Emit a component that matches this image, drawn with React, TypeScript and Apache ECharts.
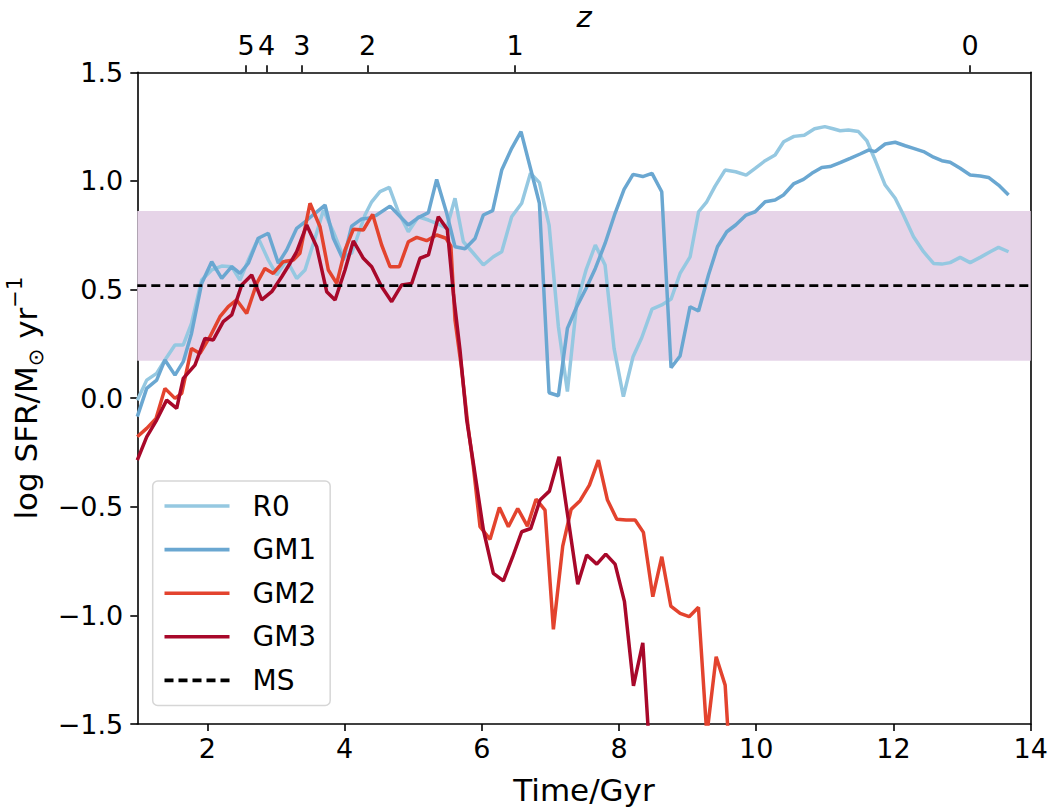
import React, { useEffect, useRef } from "react";
import * as echarts from "echarts";

const FONT = "DejaVu Sans";

const xMin = 0.98;
const xMax = 14;
const xTicks = [2, 4, 6, 8, 10, 12, 14];
const yTicksMin = -1.5;
const yTicksMax = 1.5;

const zTickTimes = [2.564, 2.866, 3.378, 4.335, 6.485, 13.118];
const zTickLabels = ["5", "4", "3", "2", "1", "0"];

const msValue = 0.518;
const msBand = [0.172, 0.861];

const seriesNames = ["R0", "GM1", "GM2", "GM3", "MS"];
const seriesColors = ["#95c8e1", "#6aa7d1", "#e3432e", "#a8082a", "#000000"];

const r0 = [
  [0.98, -0.01], [1.117, 0.083], [1.262, 0.114], [1.383, 0.176], [1.529, 0.245], [1.65, 0.245],
  [1.77, 0.344], [1.918, 0.544], [2.064, 0.59], [2.21, 0.608], [2.356, 0.605], [2.477, 0.544],
  [2.598, 0.636], [2.743, 0.736], [2.889, 0.636], [3.012, 0.567], [3.157, 0.636], [3.303, 0.551],
  [3.424, 0.59], [3.57, 0.736], [3.693, 0.866], [3.837, 0.766], [3.983, 0.651], [4.104, 0.667],
  [4.298, 0.843], [4.396, 0.904], [4.517, 0.951], [4.653, 0.97], [4.784, 0.858], [4.93, 0.766],
  [5.076, 0.835], [5.222, 0.82], [5.343, 0.805], [5.489, 0.782], [5.61, 0.92], [5.732, 0.72],
  [5.878, 0.667], [6.023, 0.613], [6.169, 0.651], [6.291, 0.674], [6.436, 0.835], [6.582, 0.897],
  [6.71, 1.035], [6.84, 0.992], [6.981, 0.797], [7.117, 0.329], [7.248, 0.03], [7.384, 0.436],
  [7.52, 0.59], [7.655, 0.705], [7.797, 0.613], [7.928, 0.229], [8.064, 0.007], [8.205, 0.191],
  [8.331, 0.278], [8.481, 0.41], [8.623, 0.429], [8.759, 0.456], [8.89, 0.574], [9.036, 0.65],
  [9.16, 0.858], [9.279, 0.904], [9.401, 0.976], [9.546, 1.05], [9.7, 1.042], [9.853, 1.027],
  [9.984, 1.058], [10.13, 1.093], [10.275, 1.119], [10.4, 1.18], [10.55, 1.205], [10.7, 1.21],
  [10.85, 1.24], [11.0, 1.25], [11.12, 1.24], [11.223, 1.231], [11.344, 1.234], [11.49, 1.227],
  [11.612, 1.185], [11.733, 1.096], [11.879, 0.981], [12.025, 0.92], [12.146, 0.843], [12.292, 0.743],
  [12.438, 0.674], [12.584, 0.62], [12.705, 0.617], [12.826, 0.624], [12.972, 0.648], [13.118, 0.624],
  [13.264, 0.648], [13.41, 0.674], [13.531, 0.694], [13.677, 0.674],
];

const gm1 = [
  [0.98, -0.085], [1.117, 0.045], [1.262, 0.083], [1.383, 0.176], [1.529, 0.106], [1.65, 0.168],
  [1.77, 0.298], [1.918, 0.528], [2.064, 0.628], [2.21, 0.551], [2.356, 0.605], [2.477, 0.574],
  [2.598, 0.621], [2.743, 0.736], [2.889, 0.759], [3.035, 0.621], [3.157, 0.682], [3.303, 0.782],
  [3.424, 0.812], [3.57, 0.851], [3.716, 0.889], [3.837, 0.736], [3.983, 0.636], [4.104, 0.792],
  [4.25, 0.825], [4.347, 0.828], [4.469, 0.843], [4.663, 0.884], [4.93, 0.797], [5.076, 0.831],
  [5.222, 0.854], [5.343, 1.007], [5.489, 0.851], [5.61, 0.697], [5.756, 0.688], [5.902, 0.735],
  [6.023, 0.843], [6.159, 0.863], [6.291, 1.05], [6.436, 1.15], [6.572, 1.227], [6.704, 1.065],
  [6.84, 0.897], [6.981, 0.025], [7.117, 0.011], [7.248, 0.321], [7.384, 0.421], [7.52, 0.505],
  [7.655, 0.597], [7.797, 0.712], [7.943, 0.851], [8.074, 0.961], [8.205, 1.03], [8.346, 1.02],
  [8.481, 1.035], [8.623, 0.95], [8.759, 0.14], [8.89, 0.194], [9.036, 0.421], [9.16, 0.401],
  [9.304, 0.567], [9.435, 0.697], [9.571, 0.766], [9.7, 0.797], [9.853, 0.843], [9.984, 0.858],
  [10.13, 0.904], [10.275, 0.912], [10.397, 0.935], [10.543, 0.986], [10.688, 1.007], [10.81, 1.035],
  [10.956, 1.062], [11.077, 1.066], [11.223, 1.084], [11.369, 1.104], [11.514, 1.124], [11.636, 1.142],
  [11.733, 1.135], [11.879, 1.17], [12.025, 1.178], [12.171, 1.162], [12.292, 1.15], [12.438, 1.135],
  [12.584, 1.109], [12.705, 1.093], [12.826, 1.086], [12.972, 1.058], [13.118, 1.027], [13.264, 1.023],
  [13.385, 1.016], [13.531, 0.981], [13.677, 0.935],
];

const gm2 = [
  [0.98, -0.178], [1.117, -0.139], [1.254, -0.093], [1.383, 0.045], [1.529, -0.001], [1.627, 0.022],
  [1.77, 0.229], [1.894, 0.206], [2.039, 0.283], [2.185, 0.375], [2.306, 0.421], [2.428, 0.452],
  [2.574, 0.39], [2.72, 0.528], [2.84, 0.597], [2.962, 0.574], [3.108, 0.628], [3.254, 0.636],
  [3.35, 0.667], [3.497, 0.897], [3.643, 0.789], [3.764, 0.59], [3.886, 0.528], [4.007, 0.682],
  [4.128, 0.777], [4.274, 0.774], [4.41, 0.846], [4.541, 0.705], [4.663, 0.605], [4.799, 0.605],
  [4.93, 0.72], [5.052, 0.74], [5.197, 0.725], [5.343, 0.751], [5.479, 0.736], [5.55, 0.7],
  [5.61, 0.36], [5.7, 0.15], [5.8, -0.13], [5.878, -0.316], [5.975, -0.592], [6.121, -0.65],
  [6.257, -0.503], [6.388, -0.592], [6.524, -0.508], [6.665, -0.589], [6.791, -0.465], [6.922, -0.515],
  [7.044, -1.064], [7.18, -0.681], [7.302, -0.512], [7.433, -0.472], [7.569, -0.4], [7.7, -0.285],
  [7.832, -0.469], [7.968, -0.557], [8.104, -0.561], [8.235, -0.561], [8.356, -0.618], [8.493, -0.914],
  [8.624, -0.73], [8.755, -0.957], [8.891, -0.991], [9.022, -1.006], [9.158, -0.963], [9.28, -1.55],
  [9.416, -1.19], [9.547, -1.321], [9.65, -1.85],
];

const gm3 = [
  [0.98, -0.285], [1.117, -0.178], [1.262, -0.101], [1.408, -0.009], [1.554, -0.047], [1.65, 0.091],
  [1.82, 0.152], [1.966, 0.275], [2.087, 0.268], [2.233, 0.352], [2.356, 0.383], [2.501, 0.521],
  [2.647, 0.567], [2.793, 0.452], [2.939, 0.49], [3.085, 0.559], [3.206, 0.621], [3.303, 0.674],
  [3.449, 0.797], [3.594, 0.697], [3.74, 0.49], [3.862, 0.452], [4.007, 0.59], [4.128, 0.724],
  [4.274, 0.644], [4.396, 0.605], [4.541, 0.513], [4.687, 0.444], [4.833, 0.521], [4.979, 0.528],
  [5.1, 0.644], [5.222, 0.659], [5.367, 0.835], [5.498, 0.777], [5.586, 0.482], [5.683, 0.221],
  [5.781, -0.101], [5.878, -0.3], [6.024, -0.607], [6.169, -0.807], [6.315, -0.841], [6.451, -0.73],
  [6.582, -0.615], [6.714, -0.6], [6.85, -0.469], [6.986, -0.428], [7.127, -0.27], [7.399, -0.857],
  [7.53, -0.722], [7.676, -0.764], [7.807, -0.718], [7.943, -0.764], [8.08, -0.937], [8.211, -1.324],
  [8.347, -1.126], [8.48, -1.8],
];

const fmtY = (v: number) => (v < 0 ? "\u2212" + Math.abs(v).toFixed(1) : v.toFixed(1));

export default function App() {
  const ref = useRef<HTMLDivElement>(null);
  useEffect(() => {
    if (!ref.current) return;
    const chart = echarts.init(ref.current, null, { renderer: "svg" });
    const axisLine = { show: true, onZero: false, lineStyle: { color: "#000", width: 1.6 } };
    const tickStyle = { color: "#000", width: 1.6 };
    const labelFont = { fontFamily: FONT, fontSize: 27, color: "#000" };
    const nameFont = { fontFamily: FONT, fontSize: 31, color: "#000" };
    const lineData = [r0, gm1, gm2, gm3];
    const option: any = {
      animation: false,
      backgroundColor: "#fff",
      grid: {
        left: 137.3,
        right: 24.3,
        top: 72.3,
        bottom: 84,
        containLabel: false,
        outerBoundsMode: "none",
      },
      legend: {
        data: seriesNames,
        orient: "vertical",
        left: 152.7,
        top: 481,
        itemWidth: 65,
        itemHeight: 14,
        itemGap: 15.6,
        padding: [11, 14, 11, 10],
        backgroundColor: "rgba(255,255,255,0.85)",
        borderColor: "#d6d6d6",
        borderWidth: 1.5,
        borderRadius: 5,
        itemStyle: { opacity: 0 },
        lineStyle: { width: 3.6 },
        textStyle: { fontFamily: FONT, fontSize: 28, color: "#000", padding: [0, 0, 0, 18], lineHeight: 28 },
      },
      xAxis: [
        {
          type: "value",
          position: "bottom",
          min: xMin,
          max: xMax,
          axisLine,
          axisTick: { show: true, length: 7, customValues: xTicks, lineStyle: tickStyle },
          axisLabel: { ...labelFont, margin: 11, customValues: xTicks },
          splitLine: { show: false },
          name: "Time/Gyr",
          nameLocation: "middle",
          nameGap: 50,
          nameTextStyle: nameFont,
        },
        {
          type: "value",
          position: "top",
          min: xMin,
          max: xMax,
          axisLine,
          axisTick: { show: true, length: 7, customValues: zTickTimes, lineStyle: tickStyle },
          axisLabel: {
            ...labelFont,
            margin: 13,
            customValues: zTickTimes,
            hideOverlap: false,
            formatter: (v: number) => {
              const i = zTickTimes.findIndex((t) => Math.abs(t - v) < 1e-6);
              return i >= 0 ? zTickLabels[i] : "";
            },
          },
          splitLine: { show: false },
          name: "z",
          nameLocation: "middle",
          nameGap: 44,
          nameMoveOverlap: false,
          nameTextStyle: { ...nameFont, fontSize: 29, fontStyle: "italic", lineHeight: 22 },
        },
      ],
      yAxis: [
        {
          type: "value",
          min: yTicksMin,
          max: yTicksMax,
          interval: 0.5,
          axisLine,
          axisTick: { show: true, length: 7, lineStyle: tickStyle },
          axisLabel: { ...labelFont, margin: 14, formatter: fmtY },
          splitLine: { show: false },
          name: "{a|log SFR/M}{sub|\u2299}{a| yr}{sup|\u22121}",
          nameLocation: "middle",
          nameGap: 90,
          nameRotate: 90,
          nameTextStyle: {
            ...nameFont,
            rich: {
              a: { fontFamily: FONT, fontSize: 31, color: "#000", lineHeight: 42, verticalAlign: "middle" },
              sub: { fontFamily: FONT, fontSize: 21, color: "#000", lineHeight: 21, verticalAlign: "bottom" },
              sup: { fontFamily: FONT, fontSize: 21, color: "#000", lineHeight: 21, verticalAlign: "top" },
            },
          },
        },
        {
          type: "value",
          position: "right",
          min: yTicksMin,
          max: yTicksMax,
          axisLine,
          axisTick: { show: false },
          axisLabel: { show: false },
          splitLine: { show: false },
        },
      ],
      series: [
        {
          name: "band",
          type: "line",
          data: [],
          z: 1,
          silent: true,
          markArea: {
            silent: true,
            itemStyle: { color: "#e6d4e8" },
            data: [[{ yAxis: msBand[0] }, { yAxis: msBand[1] }]],
          },
        },
        ...lineData.map((d, i) => ({
          name: seriesNames[i],
          type: "line",
          data: d,
          z: 2 + i,
          showSymbol: false,
          symbol: "none",
          color: seriesColors[i],
          lineStyle: { color: seriesColors[i], width: 3.5 },
        })),
        {
          name: "MS",
          type: "line",
          data: [[xMin, msValue], [xMax, msValue]],
          z: 10,
          showSymbol: false,
          symbol: "none",
          color: "#000",
          lineStyle: { color: "#000", width: 2.8, type: [9, 5] },
        },
      ],
    };
    chart.setOption(option);
    return () => chart.dispose();
  }, []);
  return (
    <div
      ref={ref}
      style={{ position: "fixed", left: 0, top: 0, width: 1055, height: 808, background: "#fff" }}
    />
  );
}
